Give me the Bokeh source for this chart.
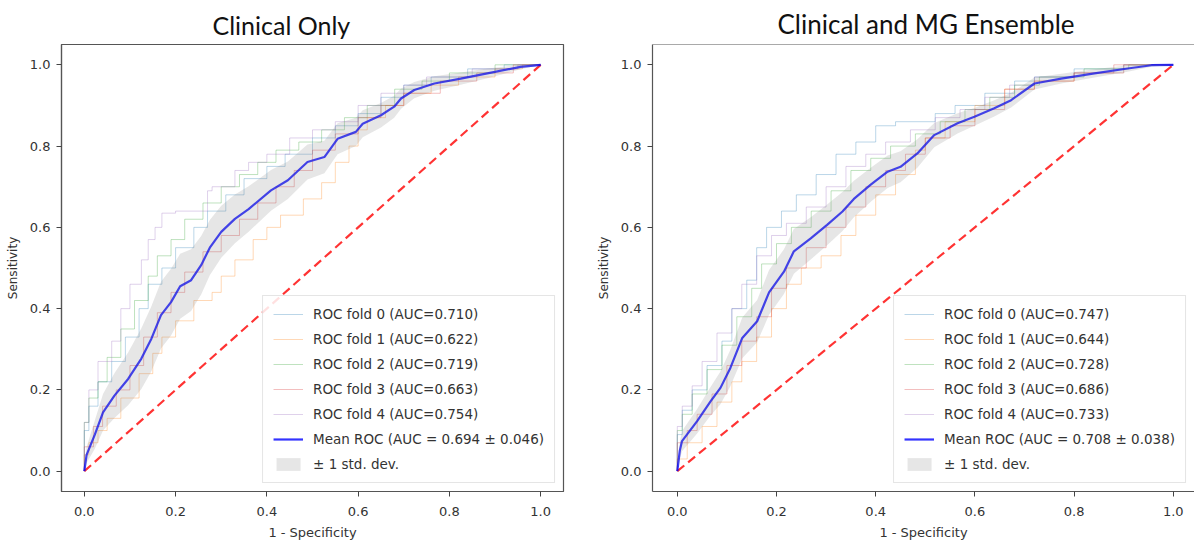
from bokeh.plotting import figure
from bokeh.layouts import row
from bokeh.models import Legend, LegendItem, FixedTicker, PrintfTickFormatter, Span, Title, Range1d
from bokeh.embed import file_html
from bokeh.resources import INLINE

TICKS = [0.0, 0.2, 0.4, 0.6, 0.8, 1.0]
CHANCE = [0.0, 1.0]
FOLD_COLORS = ["#1f77b4", "#ff7f0e", "#2ca02c", "#d62728", "#9467bd"]

# ---------------- Left panel: Clinical Only ----------------
L_TITLE = "Clinical Only"
L_AUCS = ["0.710", "0.622", "0.719", "0.663", "0.754"]
L_MEAN_LABEL = "Mean ROC (AUC = 0.694 \u00b1 0.046)"

L_F0_X = [0, 0.01, 0.03, 0.06, 0.09, 0.12, 0.14, 0.17, 0.2, 0.24, 0.27, 0.31, 0.35, 0.4, 0.44, 0.5, 0.55, 0.6, 0.65, 0.7, 0.76, 0.84, 0.92, 1.0]
L_F0_Y = [0, 0.1, 0.16, 0.22, 0.27, 0.33, 0.4, 0.46, 0.5, 0.55, 0.6, 0.64, 0.68, 0.72, 0.75, 0.78, 0.82, 0.85, 0.88, 0.92, 0.95, 0.97, 0.99, 1.0]
L_F1_X = [0, 0.01, 0.03, 0.05, 0.08, 0.12, 0.15, 0.17, 0.2, 0.24, 0.28, 0.3, 0.33, 0.37, 0.4, 0.43, 0.48, 0.52, 0.55, 0.58, 0.6, 0.62, 0.66, 0.7, 0.76, 0.82, 0.9, 0.96, 1.0]
L_F1_Y = [0, 0.04, 0.07, 0.1, 0.13, 0.18, 0.24, 0.29, 0.33, 0.37, 0.42, 0.44, 0.48, 0.52, 0.57, 0.6, 0.63, 0.67, 0.71, 0.76, 0.8, 0.84, 0.87, 0.9, 0.93, 0.95, 0.97, 0.99, 1.0]
L_F2_X = [0, 0.01, 0.03, 0.05, 0.08, 0.11, 0.14, 0.16, 0.19, 0.22, 0.26, 0.3, 0.34, 0.38, 0.42, 0.47, 0.52, 0.57, 0.62, 0.68, 0.74, 0.8, 0.9, 1.0]
L_F2_Y = [0, 0.12, 0.18, 0.22, 0.28, 0.35, 0.42, 0.48, 0.53, 0.57, 0.62, 0.66, 0.7, 0.73, 0.76, 0.79, 0.81, 0.84, 0.87, 0.9, 0.94, 0.96, 0.98, 1.0]
L_F3_X = [0, 0.02, 0.04, 0.07, 0.1, 0.13, 0.16, 0.19, 0.22, 0.26, 0.3, 0.34, 0.38, 0.42, 0.46, 0.5, 0.55, 0.6, 0.65, 0.7, 0.78, 0.86, 0.94, 1.0]
L_F3_Y = [0, 0.06, 0.11, 0.16, 0.2, 0.26, 0.33, 0.39, 0.44, 0.49, 0.54, 0.58, 0.62, 0.66, 0.7, 0.74, 0.79, 0.83, 0.87, 0.9, 0.93, 0.96, 0.98, 1.0]
L_F4_X = [0, 0.01, 0.03, 0.06, 0.08, 0.1, 0.125, 0.14, 0.155, 0.17, 0.2, 0.27, 0.28, 0.33, 0.36, 0.4, 0.45, 0.5, 0.55, 0.6, 0.65, 0.7, 0.75, 0.85, 0.95, 1.0]
L_F4_Y = [0, 0.12, 0.2, 0.27, 0.32, 0.4, 0.46, 0.52, 0.57, 0.6, 0.635, 0.64, 0.69, 0.7, 0.74, 0.76, 0.78, 0.82, 0.84, 0.86, 0.9, 0.93, 0.95, 0.97, 0.99, 1.0]

L_MEAN_X = [0, 0.005, 0.023, 0.041, 0.066, 0.096, 0.125, 0.147, 0.168, 0.19, 0.21, 0.234, 0.256, 0.275, 0.3, 0.33, 0.36, 0.409, 0.446, 0.489, 0.526, 0.555, 0.595, 0.61, 0.65, 0.679, 0.694, 0.723, 0.767, 0.825, 0.883, 0.956, 1.0]
L_MEAN_Y = [0, 0.04, 0.09, 0.145, 0.186, 0.227, 0.277, 0.326, 0.384, 0.416, 0.455, 0.47, 0.507, 0.55, 0.589, 0.621, 0.645, 0.691, 0.716, 0.761, 0.773, 0.818, 0.835, 0.855, 0.876, 0.897, 0.917, 0.938, 0.954, 0.966, 0.979, 0.995, 1.0]
L_STD = [0, 0.02, 0.035, 0.045, 0.055, 0.065, 0.075, 0.08, 0.082, 0.082, 0.08, 0.076, 0.072, 0.068, 0.064, 0.06, 0.056, 0.05, 0.046, 0.043, 0.04, 0.038, 0.035, 0.033, 0.03, 0.027, 0.025, 0.02, 0.018, 0.015, 0.012, 0.006, 0]

# ---------------- Right panel: Clinical and MG Ensemble ----------------
R_TITLE = "Clinical and MG Ensemble"
R_AUCS = ["0.747", "0.644", "0.728", "0.686", "0.733"]
R_MEAN_LABEL = "Mean ROC (AUC = 0.708 \u00b1 0.038)"

R_F0_X = [0, 0.01, 0.03, 0.06, 0.09, 0.11, 0.14, 0.16, 0.18, 0.21, 0.24, 0.28, 0.32, 0.36, 0.4, 0.44, 0.52, 0.56, 0.62, 0.68, 0.72, 0.8, 0.9, 1.0]
R_F0_Y = [0, 0.09, 0.15, 0.2, 0.26, 0.32, 0.4, 0.47, 0.55, 0.6, 0.64, 0.68, 0.73, 0.78, 0.81, 0.85, 0.86, 0.88, 0.9, 0.93, 0.96, 0.97, 0.99, 1.0]
R_F1_X = [0, 0.02, 0.05, 0.08, 0.11, 0.13, 0.16, 0.19, 0.22, 0.25, 0.29, 0.33, 0.36, 0.4, 0.44, 0.48, 0.5, 0.54, 0.6, 0.66, 0.72, 0.8, 0.9, 1.0]
R_F1_Y = [0, 0.03, 0.07, 0.11, 0.17, 0.22, 0.27, 0.33, 0.4, 0.46, 0.5, 0.53, 0.58, 0.63, 0.68, 0.73, 0.79, 0.82, 0.86, 0.9, 0.94, 0.96, 0.98, 1.0]
R_F2_X = [0, 0.01, 0.03, 0.06, 0.09, 0.12, 0.15, 0.17, 0.2, 0.23, 0.27, 0.31, 0.35, 0.39, 0.43, 0.48, 0.53, 0.58, 0.63, 0.68, 0.73, 0.82, 0.91, 1.0]
R_F2_Y = [0, 0.1, 0.14, 0.19, 0.25, 0.31, 0.38, 0.45, 0.51, 0.56, 0.6, 0.64, 0.69, 0.74, 0.77, 0.8, 0.83, 0.86, 0.89, 0.92, 0.95, 0.97, 0.99, 1.0]
R_F3_X = [0, 0.02, 0.04, 0.07, 0.1, 0.13, 0.16, 0.19, 0.22, 0.26, 0.3, 0.34, 0.38, 0.42, 0.46, 0.5, 0.55, 0.6, 0.66, 0.72, 0.8, 0.88, 1.0]
R_F3_Y = [0, 0.07, 0.1, 0.14, 0.19, 0.26, 0.32, 0.38, 0.45, 0.5, 0.55, 0.6, 0.65, 0.7, 0.74, 0.78, 0.82, 0.85, 0.89, 0.94, 0.96, 0.98, 1.0]
R_F4_X = [0, 0.01, 0.03, 0.05, 0.08, 0.11, 0.13, 0.16, 0.19, 0.22, 0.26, 0.3, 0.34, 0.38, 0.42, 0.47, 0.52, 0.57, 0.62, 0.67, 0.72, 0.8, 0.9, 1.0]
R_F4_Y = [0, 0.11, 0.16, 0.21, 0.27, 0.34, 0.4, 0.46, 0.53, 0.58, 0.61, 0.65, 0.7, 0.75, 0.78, 0.81, 0.84, 0.87, 0.89, 0.92, 0.95, 0.97, 0.98, 1.0]

R_MEAN_X = [0, 0.005, 0.0095, 0.04, 0.067, 0.087, 0.107, 0.131, 0.161, 0.185, 0.215, 0.235, 0.269, 0.302, 0.333, 0.356, 0.39, 0.424, 0.45, 0.484, 0.518, 0.565, 0.599, 0.639, 0.673, 0.72, 0.774, 0.841, 0.908, 0.956, 1.0]
R_MEAN_Y = [0, 0.05, 0.074, 0.123, 0.172, 0.205, 0.254, 0.328, 0.369, 0.44, 0.491, 0.541, 0.573, 0.606, 0.639, 0.67, 0.705, 0.737, 0.749, 0.782, 0.827, 0.856, 0.872, 0.893, 0.913, 0.954, 0.966, 0.979, 0.991, 0.999, 1.0]
R_STD = [0, 0.02, 0.025, 0.03, 0.035, 0.04, 0.045, 0.05, 0.052, 0.055, 0.055, 0.055, 0.052, 0.05, 0.048, 0.045, 0.042, 0.04, 0.038, 0.035, 0.03, 0.025, 0.022, 0.02, 0.018, 0.015, 0.012, 0.01, 0.008, 0.004, 0]

STD_LABEL = "\u00b1 1 std. dev."


def make_panel(title, title_offset, title_size, folds, aucs, mean_x, mean_y, std, mean_label,
               width, border_left, border_right, x_start, x_end, outline):
    p = figure(width=width, height=543, output_backend="svg", toolbar_location=None,
               x_range=Range1d(x_start, x_end), y_range=Range1d(-0.05, 1.05),
               min_border_left=border_left, min_border_right=border_right,
               min_border_top=43, min_border_bottom=52)
    p.title = Title(text=title, align="left", offset=title_offset,
                    text_font="Lato", text_font_size=title_size, text_font_style="normal",
                    text_color="#111111", standoff=10)
    p.xgrid.visible = False
    p.ygrid.visible = False
    p.background_fill_color = "white"
    p.border_fill_color = "white"
    if outline:
        p.outline_line_color = "#555555"
        p.outline_line_width = 1.2
    else:
        p.outline_line_color = None
        p.add_layout(Span(location=1.05, dimension="width", line_color="#555555", line_width=1.2))

    for ax, lab in ((p.xaxis[0], "1 - Specificity"), (p.yaxis[0], "Sensitivity")):
        ax.ticker = FixedTicker(ticks=TICKS)
        ax.formatter = PrintfTickFormatter(format="%.1f")
        ax.minor_tick_line_color = None
        ax.major_tick_in = 0
        ax.major_tick_out = 5
        ax.major_tick_line_color = "#444444"
        ax.axis_line_color = "#555555"
        ax.axis_line_width = 1.2
        ax.major_label_text_font = "DejaVu Sans"
        ax.major_label_text_font_size = "13px"
        ax.major_label_text_color = "#333333"
        ax.axis_label = lab
        ax.axis_label_text_font = "DejaVu Sans"
        ax.axis_label_text_font_style = "normal"
        ax.axis_label_text_color = "#333333"
    p.xaxis[0].axis_label_text_font_size = "13px"
    p.yaxis[0].axis_label_text_font_size = "12px"
    p.xaxis[0].major_label_standoff = 10
    p.xaxis[0].axis_label_standoff = 6
    p.yaxis[0].major_label_standoff = 6
    p.yaxis[0].axis_label_standoff = 7

    items = []
    for i, (fx, fy) in enumerate(folds):
        r = p.step(fx, fy, mode="before", line_color=FOLD_COLORS[i], line_alpha=0.3, line_width=1)
        items.append(LegendItem(label=f"ROC fold {i} (AUC={aucs[i]})", renderers=[r]))

    p.line(CHANCE, CHANCE, line_color="red", line_alpha=0.8, line_width=2.2, line_dash="9 5")

    upper = [min(m + s, 1.0) for m, s in zip(mean_y, std)]
    lower = [max(m - s, 0.0) for m, s in zip(mean_y, std)]
    rm = p.line(mean_x, mean_y, line_color="blue", line_alpha=0.8, line_width=2.2)
    rb = p.varea(x=mean_x, y1=lower, y2=upper, fill_color="grey", fill_alpha=0.2)
    items.append(LegendItem(label=mean_label, renderers=[rm]))
    items.append(LegendItem(label=STD_LABEL, renderers=[rb]))

    leg = Legend(items=items, location="bottom_right")
    leg.label_text_font = "DejaVu Sans"
    leg.label_text_font_size = "13.5px"
    leg.label_text_color = "#333333"
    leg.border_line_color = "#cccccc"
    leg.border_line_width = 1
    leg.background_fill_alpha = 0.85
    leg.glyph_width = 30
    leg.glyph_height = 16
    leg.label_height = 16
    leg.spacing = 9
    leg.padding = 10
    leg.margin = 8
    leg.label_standoff = 10
    p.add_layout(leg)
    return p


left = make_panel(L_TITLE, 151, "25px",
                  [(L_F0_X, L_F0_Y), (L_F1_X, L_F1_Y), (L_F2_X, L_F2_Y), (L_F3_X, L_F3_Y), (L_F4_X, L_F4_Y)],
                  L_AUCS, L_MEAN_X, L_MEAN_Y, L_STD, L_MEAN_LABEL,
                  width=593, border_left=61, border_right=30, x_start=-0.05, x_end=1.05, outline=True)

right = make_panel(R_TITLE, 125, "26px",
                   [(R_F0_X, R_F0_Y), (R_F1_X, R_F1_Y), (R_F2_X, R_F2_Y), (R_F3_X, R_F3_Y), (R_F4_X, R_F4_Y)],
                   R_AUCS, R_MEAN_X, R_MEAN_Y, R_STD, R_MEAN_LABEL,
                   width=601, border_left=59, border_right=0, x_start=-0.05, x_end=1.0427, outline=False)

layout = row(left, right, spacing=0)
open("out.html", "w").write(file_html(layout, INLINE))
